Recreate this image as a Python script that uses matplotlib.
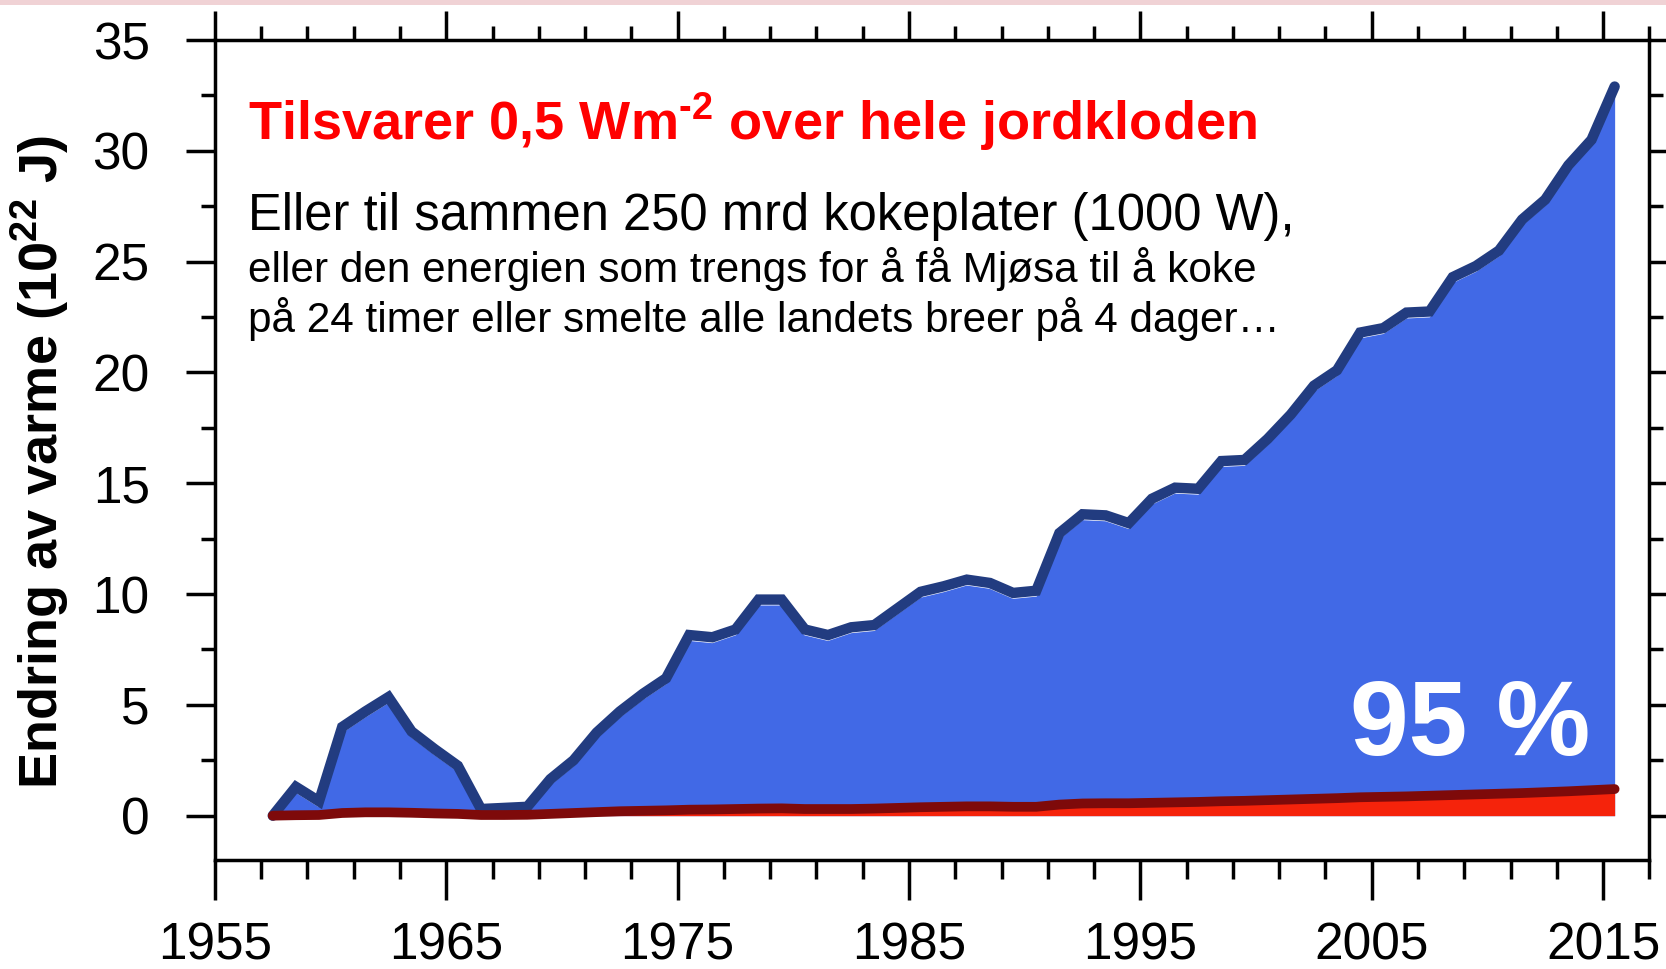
import matplotlib
matplotlib.use("Agg")
import matplotlib.pyplot as plt
import matplotlib.transforms as mtransforms
from matplotlib.patches import Rectangle
from matplotlib.ticker import MultipleLocator

# Årlige verdier (midt i året), 10^22 J
years = [1957.5 + i for i in range(59)]

total_heat = [0.0, 1.3, 0.65, 4.0, 4.7, 5.35, 3.8, 3.0, 2.25, 0.3,
              0.35, 0.4, 1.65, 2.5, 3.75, 4.7, 5.5, 6.2, 8.15, 8.05,
              8.4, 9.75, 9.75, 8.4, 8.15, 8.5, 8.6, 9.35, 10.1, 10.35,
              10.65, 10.5, 10.05, 10.15, 12.75, 13.6, 13.55, 13.2, 14.3, 14.8,
              14.75, 16.0, 16.05, 17.0, 18.1, 19.4, 20.1, 21.8, 22.0, 22.7,
              22.75, 24.3, 24.8, 25.5, 26.9, 27.8, 29.35, 30.5, 32.9]

other_heat = [0.0, 0.02, 0.03, 0.12, 0.15, 0.15, 0.13, 0.1, 0.08, 0.03,
              0.03, 0.04, 0.08, 0.12, 0.16, 0.2, 0.22, 0.24, 0.27, 0.28,
              0.3, 0.32, 0.33, 0.3, 0.3, 0.3, 0.32, 0.35, 0.38, 0.4,
              0.42, 0.42, 0.4, 0.4, 0.5, 0.55, 0.56, 0.56, 0.58, 0.6,
              0.62, 0.65, 0.67, 0.7, 0.73, 0.76, 0.79, 0.83, 0.85, 0.87,
              0.9, 0.93, 0.96, 0.99, 1.02, 1.06, 1.1, 1.15, 1.2]

x_ticks = [1955, 1965, 1975, 1985, 1995, 2005, 2015]
y_ticks = [0, 5, 10, 15, 20, 25, 30, 35]

plt.rcParams['font.family'] = ['Liberation Sans', 'DejaVu Sans']
plt.rcParams['mathtext.fontset'] = 'custom'
plt.rcParams['mathtext.rm'] = 'Liberation Sans'
plt.rcParams['mathtext.bf'] = 'Liberation Sans:bold'

fig = plt.figure(figsize=(16.66, 9.69), dpi=100)
ax = fig.add_axes([0.129, 0.1125, 0.861, 0.8462])

# Rosa stripe øverst
fig.add_artist(Rectangle((0, 0.995), 1, 0.005, transform=fig.transFigure,
                         color='#f0d2d5', lw=0))

# Blått areal med mørk kant og tynn hvit linje under
ax.fill_between(years, 0, total_heat, color='#4169e6', lw=0, zorder=2)
shift = mtransforms.offset_copy(ax.transData, fig=fig, x=0, y=-5, units='dots')
ax.plot(years, total_heat, color='white', lw=1.3, transform=shift, zorder=3)
ax.plot(years, total_heat, color='#223c80', lw=7.5, solid_joinstyle='miter',
        solid_capstyle='round', zorder=4)

# Rødt areal
ax.fill_between(years, 0, other_heat, color='#f5230b', lw=0, zorder=5)
ax.plot(years, other_heat, color='#7e0a0a', lw=7, solid_capstyle='round', zorder=6)

ax.set_xlim(1955, 2017)
ax.set_ylim(-2, 35)

ax.set_xticks(x_ticks)
ax.set_yticks(y_ticks)
ax.xaxis.set_minor_locator(MultipleLocator(2, offset=1))
ax.yaxis.set_minor_locator(MultipleLocator(2.5))

ax.tick_params(axis='both', which='both', direction='out', width=2.5,
               top=True, right=True, labelsize=37)
ax.tick_params(axis='y', which='major', length=21, pad=26)
ax.tick_params(axis='y', which='minor', length=10)
ax.tick_params(axis='x', which='major', length=29, pad=15)
ax.tick_params(axis='x', which='minor', length=14)
# kortere streker øverst enn nederst
for t in ax.xaxis.get_major_ticks():
    t.tick2line.set_markersize(21)
for t in ax.xaxis.get_minor_ticks():
    t.tick2line.set_markersize(10)
for side in ax.spines.values():
    side.set_linewidth(2.5)

# Tekster
ax.text(0.023, 0.90, r'Tilsvarer 0,5 Wm$^{\mathbf{‐2}}$ over hele jordkloden',
        transform=ax.transAxes, color='#ff0000', fontsize=39,
        fontweight='bold', va='center', ha='left')
ax.text(0.023, 0.785, 'Eller til sammen 250 mrd kokeplater (1000 W),',
        transform=ax.transAxes, fontsize=36.5, va='center', ha='left')
ax.text(0.023, 0.721, 'eller den energien som trengs for å få Mjøsa til å koke',
        transform=ax.transAxes, fontsize=30.4, va='center', ha='left')
ax.text(0.023, 0.66, 'på 24 timer eller smelte alle landets breer på 4 dager…',
        transform=ax.transAxes, fontsize=30.4, va='center', ha='left')
ax.text(0.875, 0.161, '95 %', transform=ax.transAxes, color='white',
        fontsize=76, fontweight='bold', va='center', ha='center', zorder=7)

fig.text(0.024, 0.523, r'Endring av varme (10$^{\mathbf{22}}$ J)',
         rotation=90, fontsize=39, fontweight='bold', va='center', ha='center')

fig.savefig('out.png', dpi=100)
